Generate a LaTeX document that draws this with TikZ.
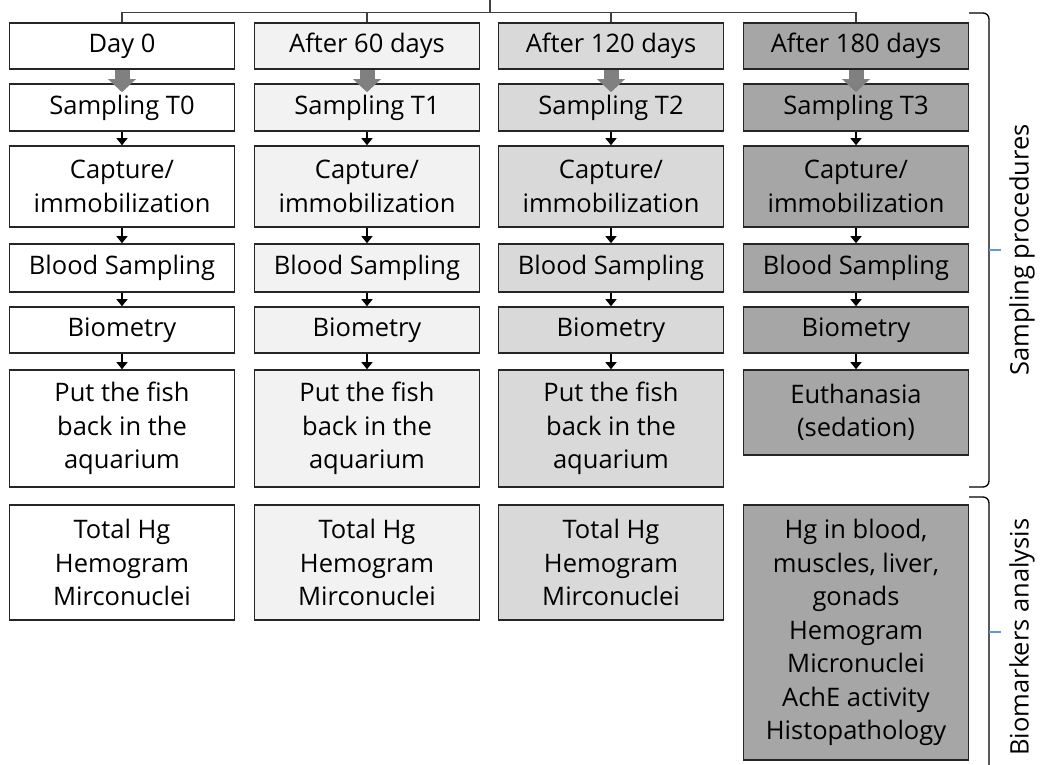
\documentclass[tikz,border=0pt]{standalone}
\usepackage{fontspec}
\setmainfont{Open Sans}
\usepackage{tikz}
\usetikzlibrary{arrows.meta}
\definecolor{bxline}{HTML}{262626}
\definecolor{dayA}{HTML}{FFFFFF}
\definecolor{dayB}{HTML}{F2F2F2}
\definecolor{dayC}{HTML}{D9D9D9}
\definecolor{dayD}{HTML}{A6A6A6}
\definecolor{arrgray}{HTML}{808080}
\definecolor{tickblue}{HTML}{5B9BD5}

\begin{document}
\begin{tikzpicture}[x=1pt,y=-1pt,font=\fontsize{25.5}{33.5}\selectfont,
  bx/.style={rectangle,draw=bxline,line width=1.6pt,align=center,minimum width=225pt,inner sep=0pt},
  bigarr/.style={-{Triangle[length=13pt,width=27pt]},line width=15pt,arrgray},
  smallarr/.style={-{Triangle[length=7pt,width=11pt]},line width=1.5pt,black},
  conn/.style={line width=1.2pt,black!75},
  brk/.style={line width=1.3pt,rounded corners=6pt}]
  \useasboundingbox (0,0) rectangle (1045,765);
  % one column per sampling time
  \foreach \i/\x/\fc/\when/\smp in {0/122/dayA/Day 0/T0,1/367/dayB/After 60 days/T1,2/611/dayC/After 120 days/T2,3/856/dayD/After 180 days/T3}{
    \node[bx,fill=\fc,minimum height=46pt] (d\i) at (\x,46) {\when};
    \node[bx,fill=\fc,minimum height=47pt] (s\i) at (\x,107.5) {Sampling \smp};
    \node[bx,fill=\fc,minimum height=81pt] (c\i) at (\x,186.5) {Capture/\\immobilization};
    \node[bx,fill=\fc,minimum height=48pt] (b\i) at (\x,268) {Blood Sampling};
    \node[bx,fill=\fc,minimum height=46pt] (m\i) at (\x,330) {Biometry};
    \draw[bigarr] (d\i.south) -- ([yshift=-9pt]s\i.north);
    \draw[smallarr] (s\i) -- (c\i);
    \draw[smallarr] (c\i) -- (b\i);
    \draw[smallarr] (b\i) -- (m\i);
  }
  \node[bx,fill=dayA,minimum height=117pt] (p0) at (122,428.5) {Put the fish\\back in the\\aquarium};
  \node[bx,fill=dayB,minimum height=117pt] (p1) at (367,428.5) {Put the fish\\back in the\\aquarium};
  \node[bx,fill=dayC,minimum height=117pt] (p2) at (611,428.5) {Put the fish\\back in the\\aquarium};
  \node[bx,fill=dayD,minimum height=85pt] (p3) at (856,412.5) {Euthanasia\\(sedation)};
  \foreach \i in {0,...,3} \draw[smallarr] (m\i) -- (p\i);
  \node[bx,fill=dayA,minimum height=115pt] (h0) at (122,562.5) {Total Hg\\Hemogram\\Mirconuclei};
  \node[bx,fill=dayB,minimum height=115pt] (h1) at (367,562.5) {Total Hg\\Hemogram\\Mirconuclei};
  \node[bx,fill=dayC,minimum height=115pt] (h2) at (611,562.5) {Total Hg\\Hemogram\\Mirconuclei};
  \node[bx,fill=dayD,minimum height=255pt] (h3) at (856,632.5) {Hg in blood,\\muscles, liver,\\gonads\\Hemogram\\Micronuclei\\AchE activity\\Histopathology};
  % top connector
  \coordinate (hub) at (490,0);
  \draw[conn] (hub) -- ++(0,13);
  \draw[conn] (d0.north) -- ++(0,-10) -| (d3.north);
  \draw[conn] (d1.north) -- ++(0,-10);
  \draw[conn] (d2.north) -- ++(0,-10);
  % brackets
  \draw[brk] (969,13) -- (989,13) -- (989,487) -- (969,487);
  \draw[tickblue,line width=1.2pt] (989,250) -- ++(12,0);
  \node[rotate=90] (sp) at (1022,250) {Sampling procedures};
  \draw[brk] (969,497) -- (989,497) -- (989,790);
  \draw[tickblue,line width=1.2pt] (989,632) -- ++(12,0);
  \node[rotate=90] (ba) at (1022,637) {Biomarkers analysis};
\end{tikzpicture}
\end{document}
